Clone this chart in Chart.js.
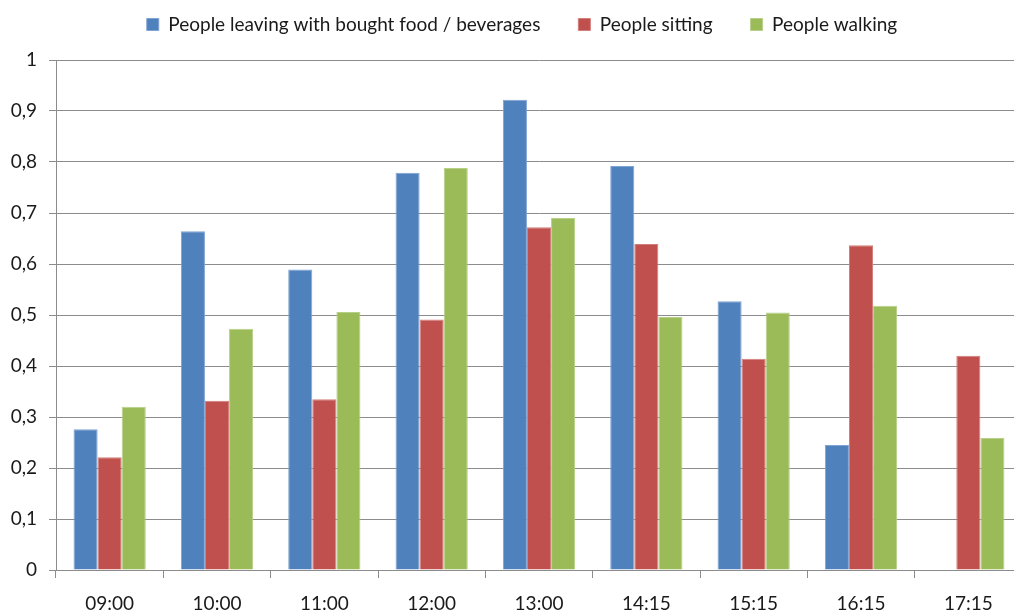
<!DOCTYPE html>
<html>
<head>
<meta charset="utf-8">
<script src="https://cdn.jsdelivr.net/npm/chart.js@4/dist/chart.umd.min.js"></script>
<style>
html,body{margin:0;padding:0;background:#fff;overflow:hidden;}
#wrap{width:1022px;height:614px;position:relative;}
</style>
</head>
<body>
<div id="wrap"><canvas id="c" width="1022" height="614"></canvas></div>
<script>
const categories = ["09:00","10:00","11:00","12:00","13:00","14:15","15:15","16:15","17:15"];
const leavingFood = [0.276, 0.664, 0.589, 0.779, 0.922, 0.792, 0.527, 0.245, null];
const sitting = [0.221, 0.332, 0.335, 0.491, 0.672, 0.639, 0.414, 0.637, 0.420];
const walking = [0.320, 0.473, 0.506, 0.788, 0.690, 0.496, 0.505, 0.518, 0.259];
const seriesNames = ["People leaving with bought food / beverages","People sitting","People walking"];
const yTicks = [0,0.1,0.2,0.3,0.4,0.5,0.6,0.7,0.8,0.9,1];

const FONT = "Lato, 'Open Sans', sans-serif";
const cols = ["#4F81BD","#C0504D","#9BBB59"];
const borders = ["#7FA3D2","#D27E7B","#B7CF88"];

const legendFix = {
  id: 'legendFix',
  beforeUpdate(chart) {
    const lg = chart.legend;
    if (lg && !lg._fixed) {
      const f = lg.fit.bind(lg);
      lg.fit = function() { f(); this.height += 16; };
      const d = lg.draw.bind(lg);
      lg.draw = function() {
        const ctx = chart.ctx;
        ctx.save(); ctx.translate(11, 0); d(); ctx.restore();
      };
      lg._fixed = true;
    }
  }
};

new Chart(document.getElementById('c'), {
  type: 'bar',
  data: {
    labels: categories,
    datasets: [leavingFood, sitting, walking].map((d,i)=>({
      label: seriesNames[i],
      data: d,
      backgroundColor: cols[i],
      borderColor: borders[i],
      borderWidth: 1,
      categoryPercentage: 0.673,
      barPercentage: 1
    }))
  },
  plugins: [legendFix],
  options: {
    responsive: false,
    animation: false,
    devicePixelRatio: 1,
    layout: {padding: {top: -23, right: 0, left: 0, bottom: 0}},
    plugins: {
      legend: {
        position: 'top',
        labels: {
          boxWidth: 12, boxHeight: 12, padding: 38,
          color: '#1a1a1a',
          font: {family: FONT, size: 19}
        }
      },
      tooltip: {enabled: false}
    },
    scales: {
      x: {
        grid: {display: true, drawOnChartArea: false, color: '#8c8c8c', tickLength: 8, offset: true},
        border: {display: true, color: '#8c8c8c'},
        ticks: {color: '#1a1a1a', font: {family: FONT, size: 19}, padding: 14, maxRotation: 0},
        afterFit: s => { s.height = 44; }
      },
      y: {
        min: 0, max: 1,
        afterBuildTicks: s => { s.ticks = yTicks.map(v=>({value:v})); },
        grid: {color: '#8c8c8c', tickLength: 7},
        border: {display: true, color: '#8c8c8c'},
        ticks: {
          color: '#1a1a1a', font: {family: FONT, size: 19}, padding: 12,
          callback: v => String(Math.round(v*10)/10).replace('.', ',')
        },
        afterFit: s => { s.width = 56; }
      }
    }
  }
});
</script>
</body>
</html>
